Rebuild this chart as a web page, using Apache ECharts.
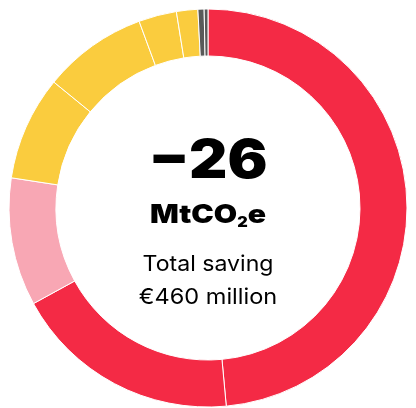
<!DOCTYPE html>
<html>
<head>
<meta charset="utf-8">
<script src="https://cdn.jsdelivr.net/npm/echarts@6/dist/echarts.min.js"></script>
<style>
  html, body { margin: 0; padding: 0; background: #fff; }
  #main { width: 416px; height: 408px; }
</style>
</head>
<body>
<div id="main"></div>
<script>
const names = ['A', 'B', 'C', 'D', 'E', 'F', 'G', 'H', 'I'];
const values = [12.6, 4.8, 2.7, 2.2, 2.2, 0.8, 0.45, 0.13, 0.08];
const colours = ['#F42A45', '#F42A45', '#F8A7B4', '#FACC3E', '#FACC3E', '#FACC3E', '#FACC3E', '#595959', '#595959'];

const totalLabel = '\u221226';
const unitMain = 'MtCO';
const unitSub = '2';
const unitTail = 'e';
const subLines = ['Total saving', '\u20ac460 million'];

const chart = echarts.init(document.getElementById('main'), null, { renderer: 'canvas' });

// texte centré sur x=208, étiré horizontalement (police large dans l'original)
function centreText(y, style, sx) {
  return {
    type: 'text', x: 208, y: y, scaleX: sx || 1,
    style: Object.assign({ align: 'center', verticalAlign: 'top', fill: '#000' }, style)
  };
}

const option = {
  animation: false,
  series: [
    {
      type: 'pie',
      center: [208, 208],
      radius: [152, 199],
      startAngle: 90,
      clockwise: true,
      avoidLabelOverlap: false,
      label: { show: false },
      labelLine: { show: false },
      emphasis: { disabled: true },
      itemStyle: { borderColor: '#fff', borderWidth: 1 },
      data: values.map((v, i) => ({ value: v, name: names[i], itemStyle: { color: colours[i] } }))
    }
  ],
  graphic: [
    centreText(136, { text: totalLabel, font: '900 53px Inter' }, 1.12),
    centreText(200, {
      text: '{a|' + unitMain + '}{b|' + unitSub + '}{a|' + unitTail + '}',
      rich: {
        a: { font: '900 26px Inter', fill: '#000' },
        b: { font: '900 14px Inter', fill: '#000', padding: [16, 0, 0, 0] }
      }
    }, 1.16),
    centreText(253, { text: subLines[0], font: '400 22px Inter' }, 1.05),
    centreText(286, { text: subLines[1], font: '400 22px Inter' }, 1.07)
  ]
};

chart.setOption(option);
</script>
</body>
</html>
